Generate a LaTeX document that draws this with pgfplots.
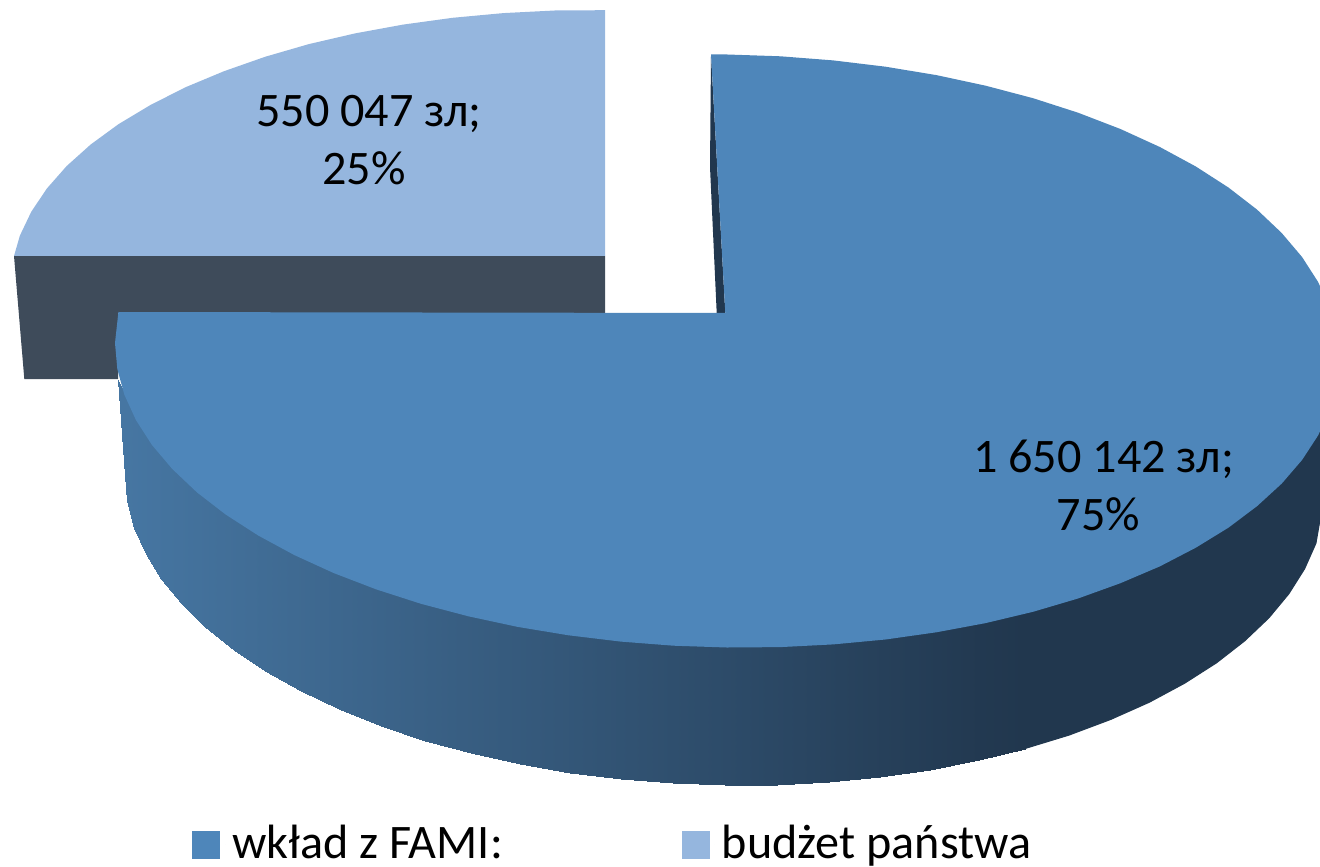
\documentclass[border=0pt]{standalone}
\usepackage{pgfplots}
\pgfplotsset{compat=1.18}
\usepackage{fontspec}
\setmainfont{Carlito}
\definecolor{mainblue}{HTML}{4E86BA}
\definecolor{lightblue}{HTML}{95B6DE}
\definecolor{backwall}{HTML}{3E4B5A}
\definecolor{wA}{HTML}{4676A2}
\definecolor{wB}{HTML}{21374E}
\pgfplotsset{
  sqlegend/.style={legend image code/.code={\fill[##1] (0cm,-0.14cm) rectangle (0.28cm,0.14cm);\path (0.33cm,0cm) -- (0.33cm,0cm);}},
}
\begin{document}
\begin{tikzpicture}
\useasboundingbox (0,0) rectangle (13.2cm,8.66cm);
\begin{axis}[
  scale only axis, width=13.2cm, height=8.66cm,
  xmin=0, xmax=1320, ymin=0, ymax=866, y dir=reverse,
  hide axis,
  colormap={wallmap}{color(0cm)=(wB) color(1cm)=(wA)},
  point meta min=0, point meta max=100,
  legend columns=2,
  legend cell align=left,
  legend style={draw=none, fill=none, at={(axis description cs:0.1455,0.0242)}, anchor=south west, yshift=-0.26cm, inner sep=0pt, outer sep=0pt,
    font=\fontsize{13.7}{15}\selectfont, /tikz/every even column/.style={column sep=1.72cm}},
]
\addlegendimage{sqlegend, fill=mainblue, draw=none}
\addlegendentry{wkład z FAMI:}
\addlegendimage{sqlegend, fill=lightblue, draw=none}
\addlegendentry{budżet państwa}
\addplot[forget plot, fill=backwall, draw=none] coordinates {(14,256)(605,256)(605,313)(118,313)(118,379)(24.3,379)} -- cycle;
\addplot[forget plot, fill=lightblue, draw=none] coordinates {(605,256)(14,256)(19.9,235.6)(31.2,211.9)(46.8,188.6)(66.7,166)(90.7,144.5)(118.6,124.1)(150.3,105.1)(185.4,87.3)(223.8,71.3)(265.1,56.8)(308.9,44.1)(355.1,33.4)(403.1,24.6)(452.7,17.8)(503.5,13.1)(554.9,10.5)(605,10.2)} -- cycle;
\addplot[forget plot, patch, patch type=rectangle, shader=interp, point meta=explicit] coordinates {
(118,380)[100](125,475)[100](127.3,501.3)[99.7](127.3,400)[99.7]
(127.3,400)[99.7](127.3,501.3)[99.7](134.1,527.5)[99](134.1,400)[99]
(134.1,400)[99](134.1,527.5)[99](145.5,553.5)[97.7](145.5,400)[97.7]
(145.5,400)[97.7](145.5,553.5)[97.7](161.2,578.8)[95.9](161.2,400)[95.9]
(161.2,400)[95.9](161.2,578.8)[95.9](181.2,603.3)[93.6](181.2,400)[93.6]
(181.2,400)[93.6](181.2,603.3)[93.6](205.4,627.1)[90.9](205.4,400)[90.9]
(205.4,400)[90.9](205.4,627.1)[90.9](233.5,649.6)[87.7](233.5,400)[87.7]
(233.5,400)[87.7](233.5,649.6)[87.7](265.4,671)[84.1](265.4,400)[84.1]
(265.4,400)[84.1](265.4,671)[84.1](300.7,690.8)[80.1](300.7,400)[80.1]
(300.7,400)[80.1](300.7,690.8)[80.1](339.3,709.2)[75.8](339.3,400)[75.8]
(339.3,400)[75.8](339.3,709.2)[75.8](380.8,725.8)[71.1](380.8,400)[71.1]
(380.8,400)[71.1](380.8,725.8)[71.1](425,740.5)[66.1](425,400)[66.1]
(425,400)[66.1](425,740.5)[66.1](471.4,753.3)[60.9](471.4,400)[60.9]
(471.4,400)[60.9](471.4,753.3)[60.9](519.8,764.1)[55.4](519.8,400)[55.4]
(519.8,400)[55.4](519.8,764.1)[55.4](569.7,772.6)[49.8](569.7,400)[49.8]
(569.7,400)[49.8](569.7,772.6)[49.8](620.8,779)[44](620.8,400)[44]
(620.8,400)[44](620.8,779)[44](672.7,783.2)[38.1](672.7,400)[38.1]
(672.7,400)[38.1](672.7,783.2)[38.1](725,785)[32.2](725,400)[32.2]
(725,400)[32.2](725,785)[32.2](777.3,784.6)[26.3](777.3,400)[26.3]
(777.3,400)[26.3](777.3,784.6)[26.3](829.2,781.8)[20.4](829.2,400)[20.4]
(829.2,400)[20.4](829.2,781.8)[20.4](880.3,776.8)[14.7](880.3,400)[14.7]
(880.3,400)[14.7](880.3,776.8)[14.7](930.2,769.5)[9](930.2,400)[9]
(930.2,400)[9](930.2,769.5)[9](978.6,760.1)[3.5](978.6,400)[3.5]
(978.6,400)[3.5](978.6,760.1)[3.5](1025,748.5)[0](1025,400)[0]
};
\addplot[forget plot, fill=wB, draw=wB, line width=.3pt] coordinates {(1024,400)(1024,748.8)(1069.2,735)(1110.7,719.4)(1149.3,702.2)(1184.6,683.2)(1216.5,662.8)(1244.6,640.9)(1268.8,617.9)(1288.8,593.8)(1304.5,568.9)(1315.9,543.3)(1325,491)(1325,400)} -- cycle;
\addplot[forget plot, fill=wB, draw=none] coordinates {(711,55)(710,167)(716.7,313)(725.3,313)} -- cycle;
\addplot[forget plot, fill=mainblue, draw=none] coordinates {(725.3,313)(711,54.3)(727,54.5)(780.4,56.3)(833.2,60.4)(885.4,66.7)(936.3,75.1)(985.6,85.7)(1033,98.2)(1078,112.7)(1120.4,129)(1159.8,147)(1195.8,166.5)(1228.4,187.5)(1257,209.6)(1281.7,233)(1302.1,257.1)(1318.1,282)(1329.7,307.4)(1336.7,333.1)(1339,359)(1329.7,410.4)(1318.1,435.4)(1302.1,459.9)(1281.7,483.6)(1257,506.2)(1228.4,527.7)(1195.8,547.7)(1159.8,566.4)(1120.4,583.2)(1078,598.5)(1033,611.8)(985.6,623.1)(936.3,632.3)(885.4,639.5)(833.2,644.4)(780.4,647.1)(727,647.5)(673.6,645.7)(620.8,641.6)(568.6,635.3)(517.7,626.9)(468.4,616.3)(421,603.8)(376,589.3)(333.6,573)(294.2,555)(258.2,535.5)(225.6,514.5)(197,492.4)(172.3,469)(151.9,444.9)(135.9,420)(124.3,394.6)(117.3,369)(115,343)(118.4,312)} -- cycle;
\node[font=\fontsize{13.7}{16.5}\selectfont, align=center] at (axis cs:369,140) {550 047 зл;\\25\%\hspace*{0.1cm}};
\node[font=\fontsize{13.7}{16.5}\selectfont, align=center] at (axis cs:1103.5,485) {1 650 142 зл;\\75\%\hspace*{0.1cm}};
\end{axis}
\end{tikzpicture}
\end{document}
